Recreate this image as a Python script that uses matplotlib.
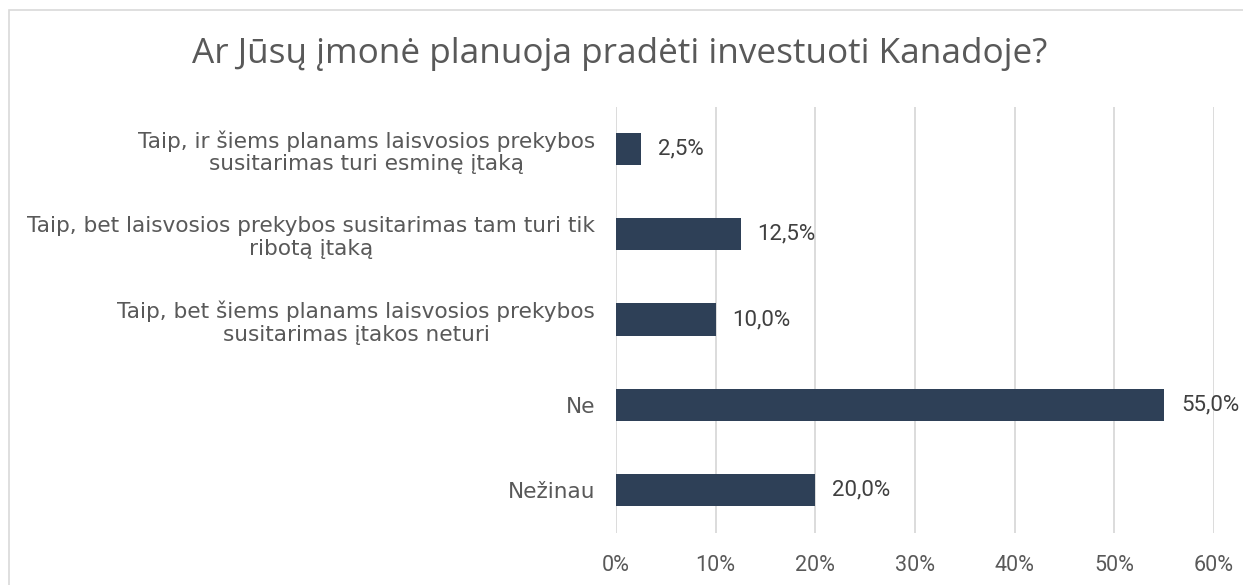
import matplotlib
matplotlib.use("Agg")
import matplotlib.pyplot as plt
from matplotlib.patches import Rectangle
from matplotlib.ticker import FuncFormatter

plt.rcParams['font.family'] = ['DejaVu Sans']

title = "Ar Jūsų įmonė planuoja pradėti investuoti Kanadoje?"
categories = [
    "Taip, ir šiems planams laisvosios prekybos\nsusitarimas turi esminę įtaką",
    "Taip, bet laisvosios prekybos susitarimas tam turi tik\nribotą įtaką",
    "Taip, bet šiems planams laisvosios prekybos\nsusitarimas įtakos neturi",
    "Ne",
    "Nežinau",
]
values = [0.025, 0.125, 0.10, 0.55, 0.20]
xticks = [0, 0.1, 0.2, 0.3, 0.4, 0.5, 0.6]

bar_color = "#2E4057"
text_color = "#595959"

fig = plt.figure(figsize=(12.43, 5.85), dpi=100)
ax = fig.add_axes([616/1243, 1-532.5/585, (1214-616)/1243, (532.5-106.5)/585])

y = list(range(len(categories)))
ax.barh(y, values, height=0.38, color=bar_color, zorder=3)
ax.set_ylim(len(categories)-0.5, -0.5)
ax.set_xlim(0, 0.6)
ax.set_xticks(xticks)
ax.xaxis.set_major_formatter(FuncFormatter(lambda v, p: f"{v*100:.0f}%"))
ax.set_yticks(y)
ax.set_yticklabels(categories, multialignment='center', fontsize=15.6, color=text_color,
                   linespacing=1.15)
ax.tick_params(axis='x', labelsize=15.5, labelcolor=text_color, labelfontfamily='Roboto')
ax.tick_params(axis='both', length=0)
ax.tick_params(axis='y', pad=15)
ax.tick_params(axis='x', pad=16)
ax.grid(axis='x', color="#D9D9D9", linewidth=1.3, zorder=0)
for s in ax.spines.values():
    s.set_visible(False)

for yi, v in zip(y, values):
    ax.annotate(f"{v*100:.1f}%".replace('.', ','), (v, yi), xytext=(12, 0),
                textcoords='offset points', va='center', ha='left',
                fontsize=16, family='Roboto', color="#404040", zorder=4)

fig.text(619.5/1243, 1-63/585, title, ha='center', va='baseline', fontsize=25.3,
         family='Open Sans', color=text_color)

fig.patches.append(Rectangle((9/1243, -0.1), 1.2, 1-10/585+0.1, transform=fig.transFigure,
                             fill=False, edgecolor="#D9D9D9", linewidth=1.2))

fig.savefig("out.png", dpi=100)
